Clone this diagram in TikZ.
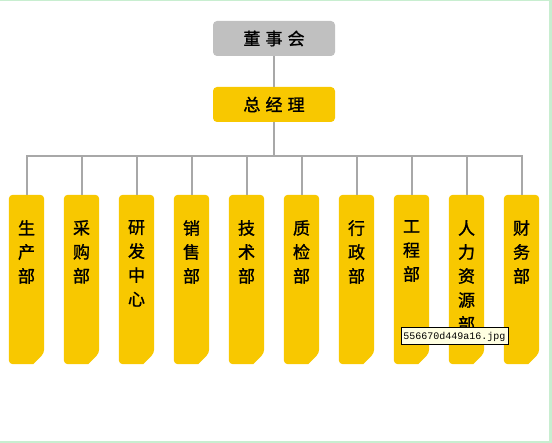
\documentclass[tikz,border=0pt]{standalone}
\usepackage{fontspec}
\newfontfamily\cjk[FakeBold=1.3]{Noto Sans CJK SC}
\newfontfamily\tipfont{Liberation Mono}
\definecolor{boxyellow}{HTML}{F8C800}
\definecolor{boxgray}{HTML}{C0C0C0}
\definecolor{linegray}{HTML}{A8A8A8}
\definecolor{framegreen}{HTML}{C8EED0}
\definecolor{tipfill}{HTML}{FFFFE1}
\tikzset{
  topbox/.style={rounded corners=4pt, minimum width=122pt, minimum height=35pt, inner sep=0pt,
    font=\cjk\fontsize{17}{17}\selectfont},
  deptbox/.style={minimum width=35pt, minimum height=169pt, inner sep=0pt},
  depttext/.style={anchor=north, inner sep=0pt, align=center, font=\cjk\fontsize{17}{24}\selectfont},
  conn/.style={draw=linegray, line width=2pt},
}
\begin{document}
\begin{tikzpicture}[x=1pt,y=-1pt]
\useasboundingbox (0,0) rectangle (552,443);
\fill[white] (0,0) rectangle (552,443);
% frame
\fill[framegreen] (0,0) rectangle (552,1.5);
\fill[framegreen] (549,0) rectangle (552,443);
\fill[framegreen] (0,441) rectangle (552,443);
% top boxes
\node[topbox, fill=boxgray] (dsh) at (274,38.5) {董\hspace{0.3em}事\hspace{0.3em}会};
\node[topbox, fill=boxyellow] (zjl) at (274,104.5) {总\hspace{0.3em}经\hspace{0.3em}理};
\draw[conn] (dsh) -- (zjl);
\coordinate (bar) at (274,156);
% departments
\foreach \i/\t in {0/{生\\产\\部},1/{采\\购\\部},2/{研\\发\\中\\心},3/{销\\售\\部},4/{技\\术\\部},5/{质\\检\\部},6/{行\\政\\部},7/{工\\程\\部},8/{人\\力\\资\\源\\部},9/{财\\务\\部}}{
  \node[deptbox] (d\i) at (26.5+55*\i,279.5) {};
  \fill[boxyellow, rounded corners=4pt] (d\i.north west) -- (d\i.north east) -- ([yshift=11pt]d\i.south east) [sharp corners] -- ([xshift=-11pt]d\i.south east) [rounded corners=4pt] -- (d\i.south west) -- cycle;
  \node[depttext] (t\i) at (26.5+55*\i,220) {\t};
  \draw[conn] (zjl.south) -- (zjl.south |- bar) -| (d\i.north);
}
% tooltip
\node[draw=black, line width=1pt, fill=tipfill, minimum width=107pt, minimum height=17pt, inner sep=0pt,
  font=\tipfont\fontsize{10}{10}\selectfont] (tip) at (454.5,336.5) {556670d449a16.jpg};
\end{tikzpicture}
\end{document}
